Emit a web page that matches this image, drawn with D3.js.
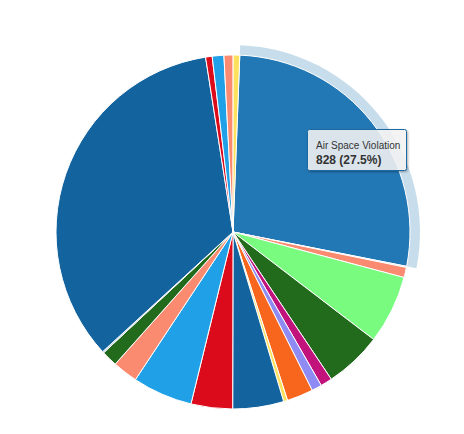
<!DOCTYPE html>
<html>
<head>
<meta charset="utf-8">
<script src="https://cdn.jsdelivr.net/npm/d3@7"></script>
<style>
  html, body { margin: 0; padding: 0; background: #ffffff; }
  svg { display: block; }
</style>
</head>
<body>
<svg id="chart" width="464" height="434"></svg>
<script>
// ---- data (clockwise, starting with the highlighted slice) ----
const categories = [
  "Air Space Violation", "Category B", "Category C", "Category D", "Category E",
  "Category F", "Category G", "Category H", "Category I", "Category J",
  "Category K", "Category L", "Category M", "Category N", "Category O",
  "Category P", "Category Q", "Category R", "Category S", "Category T"
];
const values = [828, 3, 28, 188, 158, 32, 28, 72, 11, 140, 114, 165, 69, 44, 4, 1034, 18, 32, 25, 18];
const colors = [
  "#2278b5", "#aec7e8", "#fa8a70", "#78fb7e", "#236b1c",
  "#c2137d", "#8e8bf4", "#f8651c", "#fde15d", "#13639f",
  "#dc0b1c", "#1fa0e7", "#fa8a70", "#236b1c", "#aec7e8",
  "#13639f", "#dc0b1c", "#1fa0e7", "#fa8a70", "#fde15d"
];
const hoveredIndex = 0;

// ---- layout ----
const cx = 233, cy = 232, radius = 177, haloSize = 10;
const startOffset = 2.2 * Math.PI / 180;

const svg = d3.select("#chart");
const data = categories.map((c, i) => ({ name: c, value: values[i], color: colors[i] }));
const total = d3.sum(values);

const pie = d3.pie()
  .value(d => d.value)
  .sort(null)
  .startAngle(startOffset)
  .endAngle(startOffset + 2 * Math.PI);

const arcs = pie(data);
const arc = d3.arc().innerRadius(0).outerRadius(radius);
const haloArc = d3.arc().innerRadius(radius).outerRadius(radius + haloSize);

const g = svg.append("g").attr("transform", `translate(${cx},${cy})`);

// halo for hovered slice
const h = arcs[hoveredIndex];
g.append("path")
  .attr("d", haloArc(h))
  .attr("fill", h.data.color)
  .attr("fill-opacity", 0.25);

g.selectAll("path.slice")
  .data(arcs)
  .join("path")
  .attr("class", "slice")
  .attr("d", arc)
  .attr("fill", d => d.data.color)
  .attr("stroke", "#ffffff")
  .attr("stroke-width", 1)
  .attr("stroke-linejoin", "round");

// ---- tooltip ----
const defs = svg.append("defs");
const f = defs.append("filter").attr("id", "shadow").attr("x", "-20%").attr("y", "-20%").attr("width", "150%").attr("height", "150%");
f.append("feDropShadow").attr("dx", 1).attr("dy", 1).attr("stdDeviation", 1.2).attr("flood-color", "#000").attr("flood-opacity", 0.35);

const tx = 307.5, ty = 129.5, tw = 99, th = 41;
const tip = svg.append("g");
tip.append("rect")
  .attr("x", tx).attr("y", ty).attr("width", tw).attr("height", th)
  .attr("rx", 2).attr("ry", 2)
  .attr("fill", "rgba(247,247,247,0.85)")
  .attr("stroke", "#1d6aa3")
  .attr("stroke-width", 1)
  .attr("filter", "url(#shadow)");
tip.append("text")
  .attr("x", tx + 8.5).attr("y", ty + 19.5)
  .attr("font-family", "'Liberation Sans', Arial, sans-serif")
  .attr("font-size", 10)
  .attr("fill", "#333333")
  .text(h.data.name);
const pct = (h.data.value / total * 100).toFixed(1);
tip.append("text")
  .attr("x", tx + 8.5).attr("y", ty + 34.5)
  .attr("font-family", "'Liberation Sans', Arial, sans-serif")
  .attr("font-size", 12)
  .attr("font-weight", "bold")
  .attr("fill", "#333333")
  .text(`${h.data.value} (${pct}%)`);
</script>
</body>
</html>
